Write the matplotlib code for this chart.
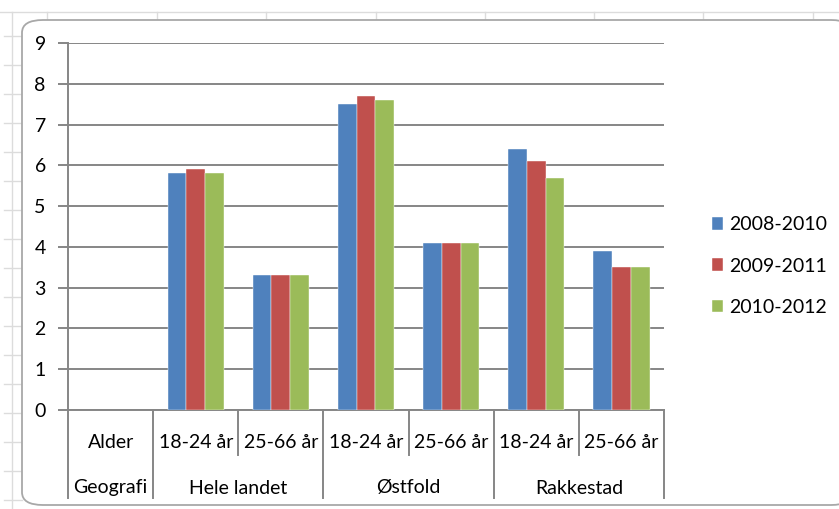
import matplotlib
matplotlib.use("Agg")
import matplotlib.pyplot as plt
import matplotlib.transforms as mtransforms
from matplotlib.patches import FancyBboxPatch
from matplotlib.lines import Line2D
import numpy as np

plt.rcParams["font.family"] = ["Lato", "DejaVu Sans"]

# data
ages = ["18-24 år", "25-66 år", "18-24 år", "25-66 år", "18-24 år", "25-66 år"]
regions = ["Hele landet", "Østfold", "Rakkestad"]
series = ["2008-2010", "2009-2011", "2010-2012"]
v_2008_2010 = [5.8, 3.3, 7.5, 4.1, 6.4, 3.9]
v_2009_2011 = [5.9, 3.3, 7.7, 4.1, 6.1, 3.5]
v_2010_2012 = [5.8, 3.3, 7.6, 4.1, 5.7, 3.5]
colors = ["#4F81BD", "#C0504D", "#9BBB59"]

W, H = 839, 509
fig = plt.figure(figsize=(W / 100, H / 100), dpi=100)

# faint spreadsheet grid behind the chart object
sheet_c = "#dcdcdc"
for xc in [47, 157, 266, 376, 485, 594, 703, 813]:
    fig.add_artist(Line2D([xc / W, xc / W], [1 - 12 / H, 1 - 22 / H], color=sheet_c,
                          lw=1, transform=fig.transFigure, zorder=-10))
fig.add_artist(Line2D([0, 1], [1 - 12 / H, 1 - 12 / H], color=sheet_c, lw=1,
                      transform=fig.transFigure, zorder=-10))
for yc in range(36, 509, 29):
    fig.add_artist(Line2D([4 / W, 22 / W], [1 - yc / H, 1 - yc / H], color=sheet_c,
                          lw=1, transform=fig.transFigure, zorder=-10))
fig.add_artist(Line2D([12 / W, 12 / W], [0, 1 - 12 / H], color=sheet_c, lw=1,
                      transform=fig.transFigure, zorder=-10))

# chart frame (Excel chart object)
frame = FancyBboxPatch((22 / W, 4 / H), 830 / W, 485 / H,
                       boxstyle="round,pad=0,rounding_size=0.025",
                       transform=fig.transFigure, facecolor="white",
                       edgecolor="#a8a8a8", linewidth=1.3, zorder=-5)
fig.patches.append(frame)

ax = fig.add_axes([68 / W, 1 - 410 / H, (664 - 68) / W, (410 - 43) / H])
ax.set_facecolor("none")
grid_c = "#868686"

x = np.arange(1, 7) + 0.5
bw = 0.22
for k, (vals, lab) in enumerate(zip([v_2008_2010, v_2009_2011, v_2010_2012], series)):
    ax.bar(x + (k - 1) * bw, vals, bw, color=colors[k], label=lab, zorder=3,
           edgecolor="white", linewidth=0.3)

ax.set_xlim(0, 7)
ax.set_ylim(0, 9)
ax.set_yticks(range(10))
ax.yaxis.grid(True, color=grid_c, linewidth=1.4)
ax.set_axisbelow(True)
for s in ["top", "right"]:
    ax.spines[s].set_visible(False)
for s in ["left", "bottom"]:
    ax.spines[s].set_color(grid_c)
    ax.spines[s].set_linewidth(1.4)
ax.tick_params(axis="y", length=7, width=1.4, color=grid_c, labelsize=14, pad=9)
ax.set_xticks([])

# category table below the axis
tr = mtransforms.blended_transform_factory(ax.transData, ax.transAxes)
row1 = -32 / 367
row2 = -78 / 367
fs = 14
ax.text(0.5, row1, "Alder", transform=tr, ha="center", va="center", fontsize=fs)
ax.text(0.5, row2, "Geografi", transform=tr, ha="center", va="center", fontsize=fs)
for i, a in enumerate(ages):
    ax.text(i + 1.5, row1, a, transform=tr, ha="center", va="center", fontsize=fs)
for j, r in enumerate(regions):
    ax.text(2 * j + 2, row2, r, transform=tr, ha="center", va="center", fontsize=fs)
short_y = -45 / 367
long_y = -88 / 367
for b in range(8):
    y_end = long_y if b in (0, 1, 3, 5, 7) else short_y
    ax.plot([b, b], [0, y_end], transform=tr, color=grid_c, linewidth=1.4,
            clip_on=False, zorder=2)

fig.legend(loc="center left", bbox_to_anchor=(694 / W, 1 - 266 / H),
           frameon=False, fontsize=14, handlelength=0.6, handleheight=0.6,
           handletextpad=0.3, labelspacing=1.25)

fig.savefig("out.png", dpi=100)
